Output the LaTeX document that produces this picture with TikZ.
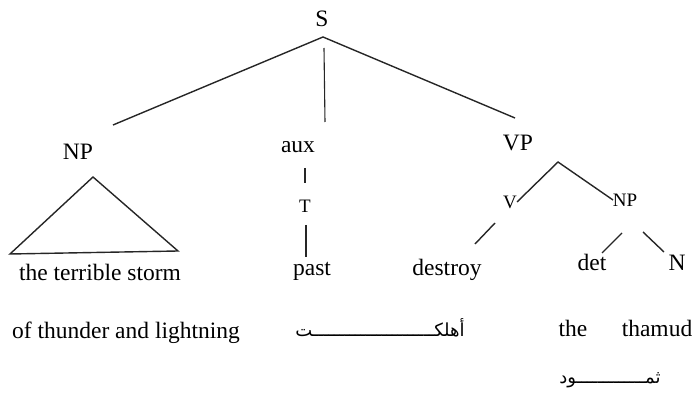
\documentclass[tikz,border=0pt]{standalone}
\usepackage{fontspec}
\setmainfont{Liberation Serif}
\newfontfamily\arabicfont[Script=Arabic]{DejaVu Sans}
\TeXXeTstate=1
\begin{document}
\begin{tikzpicture}[x=1pt,y=-1pt,
  lbl/.style={inner sep=0pt, anchor=base, font=\fontsize{23.5}{27}\selectfont},
  sml/.style={inner sep=0pt, anchor=base, font=\fontsize{19}{22}\selectfont},
  arb/.style={inner sep=0pt, anchor=base, font=\arabicfont\fontsize{18}{21}\selectfont},
  edge/.style={line width=1.4pt, draw=black!85}]
\useasboundingbox (0,0) rectangle (697,398);
% labels
\node[lbl] (S) at (322,27) {S};
\node[lbl] (NP) at (78,160) {NP};
\node[lbl] (aux) at (298,153) {aux};
\node[lbl] (VP) at (518,151) {VP};
\node[sml] (T) at (305,213) {T};
\node[sml] (V) at (510,209) {V};
\node[sml] (NP2) at (625,207) {NP};
\node[lbl] (storm) at (100,281) {the terrible storm};
\node[lbl] (thunder) at (126,339) {of thunder and lightning};
\node[lbl] (past) at (312,276) {past};
\node[lbl] (destroy) at (447,276) {destroy};
\node[lbl] (det) at (592,271) {det};
\node[lbl] (N) at (677,271) {N};
\node[lbl] (the) at (573,337) {the};
\node[lbl] (thamud) at (657,337) {thamud};
\node[arb] (ahlakat) at (380,337) {\beginR أهلكـــــــــــــــــــــــت\endR};
\node[arb] (thamud-ar) at (610,384) {\beginR ثمـــــــــــــود\endR};
% connector end points
\coordinate (Sapex) at (323,37);
\coordinate (Svert) at (324,48);
\coordinate (NPtop) at (113,125);
\coordinate (auxtop) at (325,122);
\coordinate (VPtop) at (515,118);
\coordinate (triA) at (93,177);
\coordinate (triL) at (10,254);
\coordinate (triR) at (178,251);
\coordinate (auxT1) at (305,168);
\coordinate (auxT2) at (305,183);
\coordinate (Tp1) at (306,225);
\coordinate (Tp2) at (306,257);
\coordinate (VPapex) at (558,162);
\coordinate (Vend) at (517,202);
\coordinate (NP2end) at (613,200);
\coordinate (Vd1) at (495,223);
\coordinate (Vd2) at (475,244);
\coordinate (Nd1) at (622,233);
\coordinate (Nd2) at (602,253);
\coordinate (Nn1) at (643,232);
\coordinate (Nn2) at (664,252);
% connectors
\draw[edge] (NPtop) -- (Sapex) -- (VPtop);
\draw[edge, line width=1.1pt] (Svert) -- (auxtop);
\draw[edge] (triA) -- (triL) -- (triR) -- cycle;
\draw[edge] (auxT1) -- (auxT2);
\draw[edge] (Tp1) -- (Tp2);
\draw[edge] (Vend) -- (VPapex) -- (NP2end);
\draw[edge] (Vd1) -- (Vd2);
\draw[edge] (Nd1) -- (Nd2);
\draw[edge] (Nn1) -- (Nn2);
\end{tikzpicture}
\end{document}
